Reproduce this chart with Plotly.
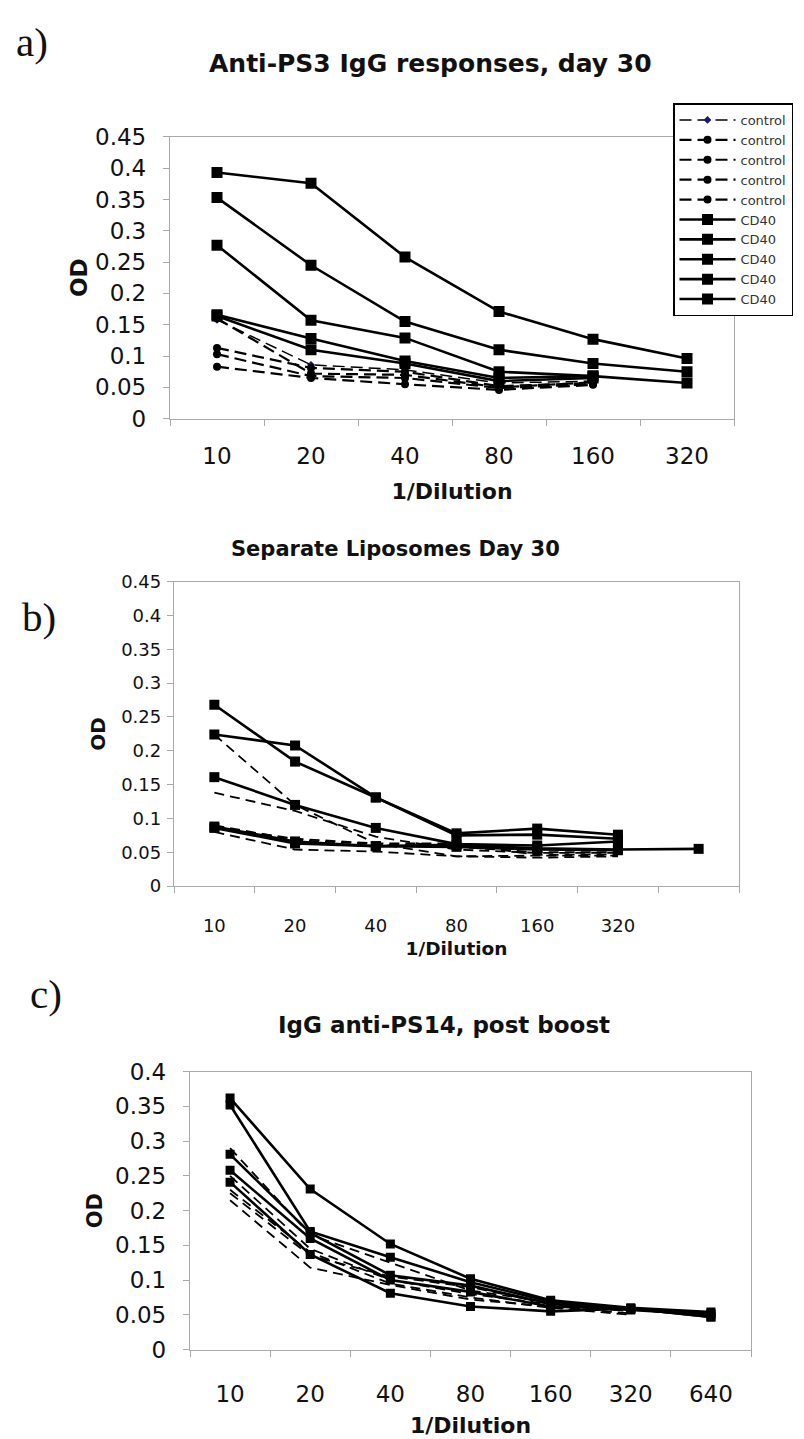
import plotly.graph_objects as go

# ---------------- data ----------------
A_X = ["10", "20", "40", "80", "160", "320"]
A_CONTROL = [
    [0.158, 0.086, 0.078, 0.057, 0.060, None],
    [0.113, 0.081, 0.075, 0.052, 0.057, None],
    [0.103, 0.068, 0.065, 0.049, 0.055, None],
    [0.083, 0.065, 0.055, 0.046, 0.054, None],
    [0.160, 0.072, 0.070, 0.050, 0.058, None],
]
A_CD40 = [
    [0.393, 0.376, 0.258, 0.171, 0.127, 0.096],
    [0.353, 0.245, 0.155, 0.110, 0.088, 0.075],
    [0.277, 0.157, 0.129, 0.075, 0.068, 0.057],
    [0.166, 0.128, 0.092, 0.065, 0.068, None],
    [0.164, 0.110, 0.088, 0.060, 0.065, None],
]

B_X = ["10", "20", "40", "80", "160", "320", " "]
B_CONTROL = [
    [0.224, 0.120, 0.063, 0.044, 0.045, 0.045, None],
    [0.138, 0.111, 0.073, 0.054, 0.049, 0.049, None],
    [0.087, 0.070, 0.063, 0.063, 0.046, 0.047, None],
    [0.080, 0.054, 0.051, 0.044, 0.042, 0.044, None],
    [0.090, 0.068, 0.062, 0.058, 0.050, 0.050, None],
]
B_CD40 = [
    [0.268, 0.184, 0.131, 0.078, 0.085, 0.076, None],
    [0.224, 0.208, 0.131, 0.075, 0.076, 0.070, None],
    [0.161, 0.120, 0.086, 0.062, 0.060, 0.066, None],
    [0.088, 0.066, 0.059, 0.061, 0.056, 0.054, 0.055],
    [0.086, 0.063, 0.059, 0.058, 0.054, 0.053, None],
]

C_X = ["10", "20", "40", "80", "160", "320", "640"]
C_CONTROL = [
    [0.290, 0.165, 0.125, 0.085, 0.068, 0.055, None],
    [0.250, 0.145, 0.100, 0.080, 0.065, 0.055, None],
    [0.230, 0.140, 0.095, 0.075, 0.060, 0.050, None],
    [0.225, 0.135, 0.105, 0.090, 0.065, 0.058, None],
    [0.215, 0.118, 0.093, 0.072, 0.062, 0.052, None],
]
C_CD40 = [
    [0.362, 0.231, 0.152, 0.102, 0.071, 0.060, 0.054],
    [0.352, 0.170, 0.133, 0.097, 0.069, 0.059, 0.047],
    [0.281, 0.168, 0.107, 0.092, 0.066, 0.057, 0.050],
    [0.258, 0.160, 0.100, 0.083, 0.062, 0.058, 0.052],
    [0.241, 0.137, 0.081, 0.062, 0.055, 0.059, 0.047],
]

TITLES = ["Anti-PS3 IgG responses, day 30", "Separate Liposomes Day 30", "IgG anti-PS14, post boost"]
PANEL_LABELS = ["a)", "b)", "c)"]
X_TITLE = "1/Dilution"
Y_TITLE = "OD"

# ---------------- layout geometry (pixels) ----------------
W, H = 804, 1439
FONT = "DejaVu Sans"
GRID = "#a9a9a9"


def px_x(v):
    return v / W


def px_y(v):
    return 1 - v / H


fig = go.Figure()

panels = [
    dict(x=A_X, ctrl=A_CONTROL, cd=A_CD40, ax="x", ay="y", ctrl_marker=True,
         msq=11, mci=8, legend=True, cw=2.2, dash="12px,6px"),
    dict(x=B_X, ctrl=B_CONTROL, cd=B_CD40, ax="x2", ay="y2", ctrl_marker=False,
         msq=10, mci=6, legend=False, cw=1.8, dash="10px,6px"),
    dict(x=C_X, ctrl=C_CONTROL, cd=C_CD40, ax="x3", ay="y3", ctrl_marker=False,
         msq=9, mci=6, legend=False, cw=1.8, dash="10px,6px"),
]

for p in panels:
    for i, ys in enumerate(p["ctrl"]):
        if p["legend"] and i == 0:
            marker = dict(symbol="diamond", size=6, color="#1a1a6e")
            line = dict(color="black", width=1.5, dash=p["dash"])
        else:
            marker = dict(symbol="circle", size=p["mci"], color="black")
            line = dict(color="black", width=p["cw"], dash=p["dash"])
        fig.add_trace(go.Scatter(
            x=p["x"], y=ys, xaxis=p["ax"], yaxis=p["ay"], name="control",
            mode="lines+markers" if p["ctrl_marker"] else "lines",
            marker=marker, line=line, showlegend=p["legend"],
        ))
    for ys in p["cd"]:
        fig.add_trace(go.Scatter(
            x=p["x"], y=ys, xaxis=p["ax"], yaxis=p["ay"], name="CD40",
            mode="lines+markers",
            marker=dict(symbol="square", size=p["msq"], color="black"),
            line=dict(color="black", width=2.6), showlegend=p["legend"],
        ))

# (x0, x1, ytop, ybottom, ymax, tickfont, xtitlefont, ytitlefont,
#  xlabel standoff, xtitle standoff, ylabel standoff, ytitle standoff)
geom = [
    (162, 726, 118, 405, 0.45, 23, 22, 23, 17, 15, 12, 0),
    (166, 731, 571, 881, 0.45, 18, 18.5, 20, 23, 7, 2, 10),
    (182, 743, 1070, 1353, 0.40, 23, 22, 21, 24, 11, 12, 6),
]
layout_axes = {}
for k, (x0, x1, yt, yb, ymax, tf, ttf, ytf, xls, xts, yls, yts) in enumerate(geom):
    sx = "" if k == 0 else str(k + 1)
    cats = panels[k]["x"]
    layout_axes["xaxis" + sx] = dict(
        domain=[px_x(x0), px_x(x1)], anchor="y" + sx, type="category",
        categoryorder="array", categoryarray=cats, tickson="boundaries",
        ticks="outside", ticklen=6, tickcolor=GRID, showline=True, linecolor=GRID,
        linewidth=1.3, mirror=True, showgrid=False, zeroline=False,
        tickfont=dict(family=FONT, size=tf, color="#111"),
        ticklabelstandoff=xls,
        title=dict(text="<b>" + X_TITLE + "</b>", font=dict(family=FONT, size=ttf, color="#111"),
                   standoff=xts),
        range=[-0.5, len(cats) - 0.5],
    )
    layout_axes["yaxis" + sx] = dict(
        domain=[px_y(yb), px_y(yt)], anchor="x" + sx, range=[0, ymax],
        tick0=0, dtick=0.05, ticks="outside", ticklen=6, tickcolor=GRID,
        showline=True, linecolor=GRID, linewidth=1.3, mirror=True,
        showgrid=False, zeroline=False,
        tickfont=dict(family=FONT, size=tf, color="#111"),
        ticklabelstandoff=yls,
        title=dict(text="<b>" + Y_TITLE + "</b>", font=dict(family=FONT, size=ytf, color="#111"),
                   standoff=yts),
    )

annotations = []
title_pos = [(422, 43, 25), (387, 538, 21), (436, 1022, 23)]
for t, (tx, ty, ts) in zip(TITLES, title_pos):
    annotations.append(dict(
        text="<b>" + t + "</b>", x=px_x(tx), y=px_y(ty), xref="paper", yref="paper",
        xanchor="center", yanchor="middle", showarrow=False,
        font=dict(family=FONT, size=ts, color="#111"),
    ))
label_pos = [(6, 21), (12, 607), (20, 991)]
for t, (lx, ly) in zip(PANEL_LABELS, label_pos):
    annotations.append(dict(
        text=t, x=px_x(lx), y=px_y(ly), xref="paper", yref="paper",
        xanchor="left", yanchor="middle", showarrow=False,
        font=dict(family="Liberation Serif", size=41, color="#111"),
    ))

fig.update_layout(
    width=W, height=H, margin=dict(l=0, r=0, t=0, b=0),
    paper_bgcolor="white", plot_bgcolor="white",
    showlegend=True,
    legend=dict(
        x=px_x(665), y=px_y(84), xanchor="left", yanchor="top",
        bgcolor="white", bordercolor="black", borderwidth=1.5,
        font=dict(family=FONT, size=13, color="#333"),
        itemwidth=56, tracegroupgap=0,
    ),
    annotations=annotations,
    **layout_axes,
)

fig.write_html("out.html")
